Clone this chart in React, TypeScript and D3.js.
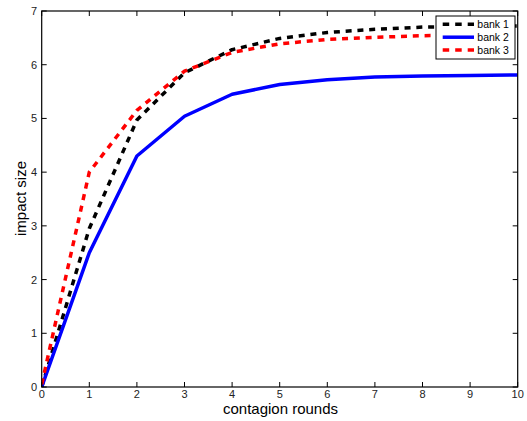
import React from "react";
import * as d3 from "d3";

const rounds = [0, 1, 2, 3, 4, 5, 6, 7, 8, 9, 10];
const bank1 = [0, 2.95, 4.97, 5.85, 6.28, 6.49, 6.6, 6.66, 6.7, 6.71, 6.72];
const bank2 = [0, 2.5, 4.3, 5.04, 5.45, 5.63, 5.72, 5.77, 5.79, 5.8, 5.81];
const bank3 = [0.05, 4.0, 5.15, 5.88, 6.23, 6.39, 6.47, 6.51, 6.54, 6.55, 6.56];
const xTicks = [0, 1, 2, 3, 4, 5, 6, 7, 8, 9, 10];
const yTicks = [0, 1, 2, 3, 4, 5, 6, 7];
const seriesNames = ["bank 1", "bank 2", "bank 3"];
const seriesColors = ["#000000", "#0000ff", "#ff0000"];
const seriesDash = ["6 5.8", null, "6 5.8"];

export default function App() {
  const W = 527, H = 421;
  const left = 41.7, right = 517.7, top = 11, bottom = 387;
  const x = d3.scaleLinear().domain([0, 10]).range([left, right]);
  const y = d3.scaleLinear().domain([0, 7]).range([bottom, top]);
  const line = d3.line<number>().x((_, i) => x(rounds[i])).y((d) => y(d));
  const series = [bank1, bank2, bank3];
  const font = "Liberation Sans, Arial, sans-serif";
  const tl = 5;
  return (
    <svg width={W} height={H} style={{ position: "absolute", left: 0, top: 0 }} fontFamily={font}>
      <rect x={0} y={0} width={W} height={H} fill="#fff" />
      <defs>
        <clipPath id="plot">
          <rect x={left} y={top} width={right - left} height={bottom - top} />
        </clipPath>
      </defs>
      <g clipPath="url(#plot)">
        {series.map((s, k) => (
          <path
            key={k}
            d={line(s) || ""}
            fill="none"
            stroke={seriesColors[k]}
            strokeWidth={3.5}
            strokeDasharray={seriesDash[k] || undefined}
            strokeLinejoin="round"
          />
        ))}
      </g>
      <rect x={left} y={top} width={right - left} height={bottom - top} fill="none" stroke="#000" strokeWidth={1.2} />
      {xTicks.map((t) => (
        <g key={"x" + t}>
          <line x1={x(t)} x2={x(t)} y1={bottom} y2={bottom - tl} stroke="#000" />
          <line x1={x(t)} x2={x(t)} y1={top} y2={top + tl} stroke="#000" />
          <text x={x(t)} y={bottom + 11} textAnchor="middle" fontSize={11} fill="#222">{t}</text>
        </g>
      ))}
      {yTicks.map((t) => (
        <g key={"y" + t}>
          <line x1={left} x2={left + tl} y1={y(t)} y2={y(t)} stroke="#000" />
          <line x1={right} x2={right - tl} y1={y(t)} y2={y(t)} stroke="#000" />
          <text x={left - 4.5} y={y(t) + 4} textAnchor="end" fontSize={11} fill="#222">{t}</text>
        </g>
      ))}
      <text x={280.5} y={413.5} textAnchor="middle" fontSize={15}>contagion rounds</text>
      <text transform={`translate(26,198.5) rotate(-90)`} textAnchor="middle" fontSize={15}>impact size</text>
      <g>
        <rect x={436} y={16} width={79} height={43} fill="#fff" stroke="#000" strokeWidth={1} />
        {seriesNames.map((n, k) => (
          <g key={n}>
            <line x1={442.7} x2={474} y1={24.3 + k * 12.9} y2={24.3 + k * 12.9} stroke={seriesColors[k]} strokeWidth={3.5} strokeDasharray={seriesDash[k] ? "6.5 6" : undefined} />
            <text x={477.3} y={24.3 + k * 12.9 + 3.8} fontSize={10.5}>{n}</text>
          </g>
        ))}
      </g>
    </svg>
  );
}
